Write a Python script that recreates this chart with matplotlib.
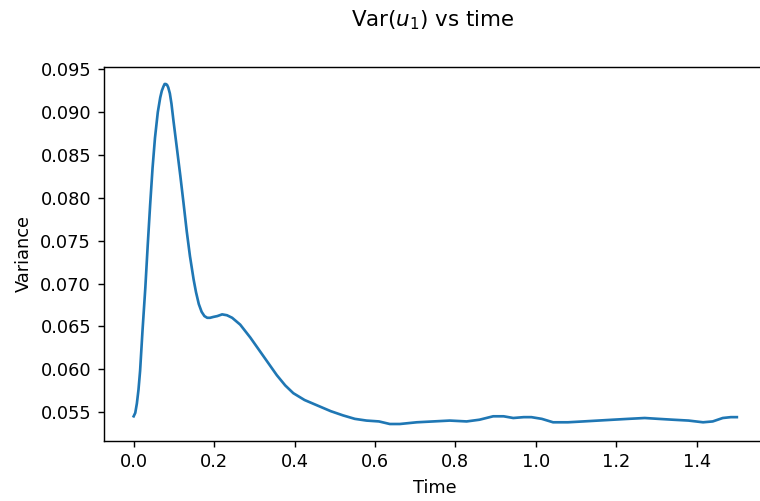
import matplotlib
matplotlib.use("Agg")
import matplotlib.pyplot as plt

# values
time = [0.000, 0.004, 0.008, 0.012, 0.016, 0.022, 0.029, 0.035, 0.041, 0.047,
        0.053, 0.060, 0.066, 0.070, 0.074, 0.077, 0.080, 0.083, 0.086, 0.090,
        0.094, 0.099, 0.107, 0.116, 0.124, 0.132, 0.140, 0.149, 0.155, 0.162,
        0.169, 0.176, 0.183, 0.190, 0.198, 0.208, 0.220, 0.232, 0.245, 0.265,
        0.290, 0.314, 0.335, 0.356, 0.377, 0.397, 0.425, 0.455, 0.490, 0.521,
        0.550, 0.579, 0.610, 0.637, 0.662, 0.704, 0.745, 0.786, 0.828, 0.860,
        0.894, 0.920, 0.944, 0.970, 0.989, 1.015, 1.043, 1.080, 1.118, 1.155,
        1.192, 1.230, 1.271, 1.305, 1.341, 1.380, 1.416, 1.440, 1.465, 1.485,
        1.500]
variance = [0.0545, 0.0549, 0.0560, 0.0576, 0.0598, 0.0645, 0.0695, 0.0745, 0.0792, 0.0835,
            0.0870, 0.0900, 0.0917, 0.0925, 0.0930, 0.0933, 0.0933, 0.0932, 0.0929, 0.0922,
            0.0910, 0.0890, 0.0860, 0.0826, 0.0794, 0.0761, 0.0732, 0.0705, 0.0690, 0.0676,
            0.0667, 0.0662, 0.0660, 0.0660, 0.0661, 0.0662, 0.0664, 0.0663, 0.0660, 0.0652,
            0.0637, 0.0621, 0.0607, 0.0593, 0.0581, 0.0572, 0.0564, 0.0558, 0.0551, 0.0546,
            0.0542, 0.0540, 0.0539, 0.0536, 0.0536, 0.0538, 0.0539, 0.0540, 0.0539, 0.0541,
            0.0545, 0.0545, 0.0543, 0.0544, 0.0544, 0.0542, 0.0538, 0.0538, 0.0539, 0.0540,
            0.0541, 0.0542, 0.0543, 0.0542, 0.0541, 0.0540, 0.0538, 0.0539, 0.0543, 0.0544,
            0.0544]

x_ticks = [0.0, 0.2, 0.4, 0.6, 0.8, 1.0, 1.2, 1.4]
y_ticks = [0.055, 0.060, 0.065, 0.070, 0.075, 0.080, 0.085, 0.090, 0.095]

fig = plt.figure(figsize=(760 / 128, 501 / 128), dpi=128)
ax = fig.add_axes([103.5 / 760, 1 - 441 / 501, (767 - 103.5) / 760, (441 - 67) / 501])

ax.plot(time, variance, color="#1f77b4", linewidth=1.5)
ax.set_xticks(x_ticks)
ax.set_yticks(y_ticks)
ax.set_xlabel("Time")
ax.set_ylabel("Variance")

fig.text(433 / 760, 1 - 20 / 501, r"Var($u_1$) vs time", ha="center", va="center", fontsize=12)

fig.savefig("out.png", dpi=128)
